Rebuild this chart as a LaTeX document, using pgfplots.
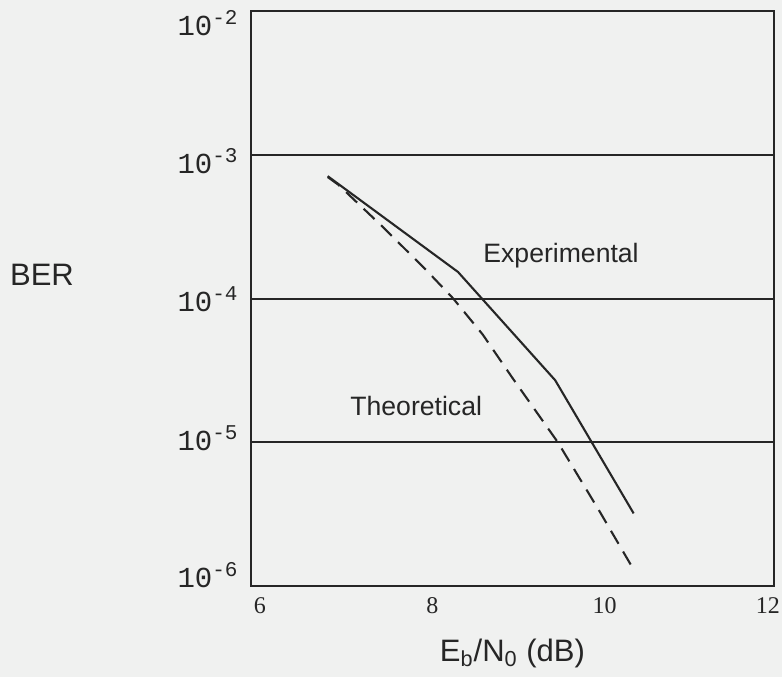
\documentclass[border=0pt]{standalone}
\usepackage{fontspec}
\usepackage{pgfplots}
\pgfplotsset{compat=1.18}
\setmainfont{Liberation Sans}
\newfontfamily\sansf{Liberation Sans}
\newfontfamily\seriff{Liberation Serif}
\newfontfamily\monof{Liberation Mono}

\definecolor{bgcol}{RGB}{240,241,240}
\definecolor{ink}{RGB}{38,38,38}

% decade label in the typewriter style: 10^{-n}, baseline set #2 below the tick
\newcommand{\dec}[2]{\raisebox{#2}[0pt][0pt]{\monof\fontsize{14.5pt}{15pt}\selectfont 10\raisebox{5.5pt}{\fontsize{10.5pt}{11pt}\selectfont -#1}}}
% x tick label, centred #2 to the right of its tick
\newcommand{\xl}[2]{\makebox[0pt]{\hspace*{\dimexpr 2\dimexpr #2\relax\relax}#1}}

\begin{document}
\begin{tikzpicture}
\useasboundingbox (-125.5pt,-45.5pt) rectangle (265.5pt,293pt);
\fill[bgcol] (-125.5pt,-45.5pt) rectangle (265.5pt,293pt);
\begin{axis}[
  scale only axis,
  width=261.5pt, height=287.5pt,
  xmin=6, xmax=12,
  ymode=log, ymin=1e-6, ymax=1e-2,
  xtick={6,8,10,12},
  xticklabels={\xl{6}{4.5pt},\xl{8}{3.5pt},\xl{10}{2.5pt},\xl{12}{-3pt}},
  ytick={1e-6,1e-5,1e-4,1e-3,1e-2},
  yticklabels={\dec{6}{-0.5pt},\dec{5}{-4pt},\dec{4}{-6.5pt},\dec{3}{-9.5pt},\dec{2}{-12pt}},
  major tick length=0pt, minor tick length=0pt,
  ymajorgrids,
  major grid style={line width=1pt, color=ink},
  axis line style={line width=1.3pt, color=ink},
  xticklabel style={font=\seriff\fontsize{12pt}{13pt}\selectfont, inner sep=0pt, anchor=north, yshift=-5.5pt, text=ink},
  yticklabel style={inner sep=0pt, anchor=east, xshift=-6.5pt, text=ink},
  xlabel={E\textsubscript{b}/N\textsubscript{0} (dB)},
  xlabel style={font=\sansf\fontsize{15.5pt}{16pt}\selectfont, at={(axis description cs:0.5,0)}, anchor=center, yshift=-33.5pt, text=ink},
  ylabel={BER},
  ylabel style={rotate=-90, font=\sansf\fontsize{15.5pt}{16pt}\selectfont, at={(axis description cs:0,0.541)}, anchor=center, xshift=-104.5pt, text=ink},
  clip=false,
]
% measured BER
\addplot[ink, line width=1.05pt] coordinates {
  (6.88,7.1e-4) (8.375,1.53e-4) (9.49,2.7e-5) (10.39,3.2e-6)
};
% theoretical BER
\addplot[ink, line width=1.05pt, dash pattern=on 7.5pt off 4.5pt] coordinates {
  (6.88,7.0e-4) (7.0,6.2e-4) (7.5,3.2e-4) (8.0,1.6e-4) (8.32,1.0e-4)
  (8.66,5.6e-5) (9.0,2.8e-5) (9.52,1.0e-5) (10.0,3.3e-6) (10.39,1.3e-6)
};
\node[anchor=west, inner sep=0pt, font=\sansf\fontsize{13.3pt}{14pt}\selectfont, text=ink] at (axis cs:8.662,2.0e-4) {Experimental};
\node[anchor=west, inner sep=0pt, font=\sansf\fontsize{13.3pt}{14pt}\selectfont, text=ink] at (axis cs:7.136,1.8e-5) {Theoretical};
\end{axis}
\end{tikzpicture}
\end{document}
